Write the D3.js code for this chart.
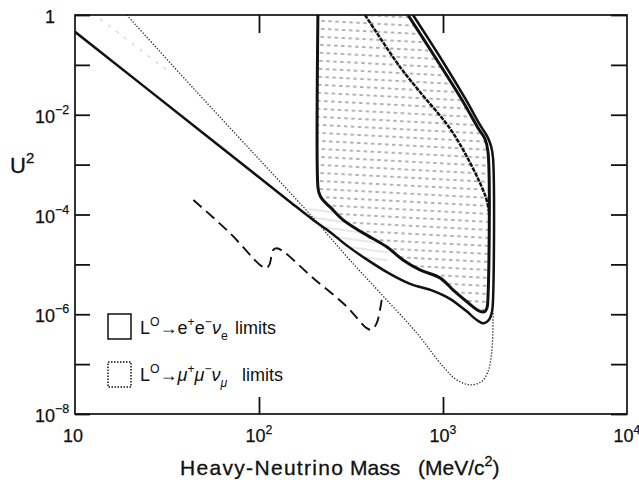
<!DOCTYPE html>
<html><head><meta charset="utf-8">
<script src="https://cdn.jsdelivr.net/npm/d3@7"></script>
<style>body{margin:0;background:#fff}svg{display:block}text{font-family:"Liberation Sans",Arial,sans-serif;fill:#111}</style>
</head><body><svg id="c" width="639" height="480"></svg>
<script>
// Heavy-neutrino mixing limits: U^2 versus mass (MeV/c^2)

// L0 -> e+ e- nu_e limit contour (solid)
const eeMass = [10, 50, 100, 150, 197, 243, 297, 381, 515, 662, 883, 1091, 1334, 1550, 1670, 1778, 1846, 1870, 1870, 1823, 1734, 1589, 1334, 963, 687];
const eeU2   = [0.46, 4.21e-3, 5.56e-4, 1.70e-4, 7.8e-5, 4.48e-5, 2.46e-5, 1.29e-5, 6.45e-6, 4.07e-6, 2.94e-6, 2.04e-6, 1.17e-6, 7.38e-7, 6.57e-7, 7.72e-7, 1.12e-6, 1.94e-6, 1.36e-3, 2.37e-3, 3.76e-3, 6.25e-3, 0.0198, 0.144, 1];

// L0 -> mu+ mu- nu_mu limit contour (heavy, hatched inside)
const muMass = [209, 209, 212, 220, 243, 286, 367, 490, 606, 750, 963, 1133, 1345, 1589, 1692, 1734, 1756, 1756, 1692, 1550, 1269, 905, 645];
const muU2   = [1, 3.57e-4, 2.71e-4, 2.05e-4, 1.42e-4, 7.8e-5, 4.28e-5, 2.3e-5, 1.23e-5, 7.76e-6, 5.36e-6, 3.08e-6, 1.8e-6, 1.14e-6, 1.14e-6, 1.34e-6, 2.23e-6, 1.8e-3, 3.27e-3, 5.43e-3, 0.0198, 0.144, 1];

// heavy dotted curve inside the hatched region
const heavyMass = [377, 584, 750, 1133, 1692, 1778];
const heavyU2   = [1, 0.0908, 0.0286, 4.32e-3, 2.47e-4, 1.13e-4];

// fine dotted curve
const dotMass = [19.1, 45.9, 101, 197, 300, 455, 719, 1000, 1187, 1402, 1623, 1756, 1839, 1870, 1870];
const dotU2   = [1, 0.0286, 1.24e-3, 8.55e-5, 1.43e-5, 2.69e-6, 4.24e-7, 8.95e-8, 4.84e-8, 3.85e-8, 4.48e-8, 7.11e-8, 1.68e-7, 6.73e-7, 1.07e-6];

// dashed curve
const dashMass = [44, 69.6, 101.3, 109.2, 113.8, 119.6, 124.8, 135.6, 197.3, 299.6, 384.8, 409.8, 436.2, 454.6, 464.4];
const dashU2   = [1.96e-4, 4.22e-5, 9.77e-6, 8.39e-6, 9.77e-6, 1.95e-5, 2.11e-5, 1.81e-5, 5.29e-6, 1.43e-6, 5.26e-7, 4.87e-7, 6.63e-7, 1.23e-6, 1.94e-6];

// faint trace in the upper left
const ghostMass = [13.7, 33.6];
const ghostU2   = [0.83, 0.0657];

// axis ticks and labels
const yDecades = [1, 1e-1, 1e-2, 1e-3, 1e-4, 1e-5, 1e-6, 1e-7, 1e-8];
const yLabelVals = [1, 1e-2, 1e-4, 1e-6, 1e-8];
const yLabelBase = ["1", "10", "10", "10", "10"];
const yLabelExp  = ["", "−2", "−4", "−6", "−8"];
const xTickVals = [100, 1000];
const xLabelVals = [10, 100, 1000, 10000];
const xLabelExp  = ["", "2", "3", "4"];

const svg = d3.select("#c");
const x = d3.scaleLog().domain([10, 1e4]).range([75, 627]);
const y = d3.scaleLog().domain([1e-8, 1]).range([414, 15]);

const pts = (ms, us) => ms.map((m, i) => [x(m), y(us[i])]);
const smooth = d3.line().curve(d3.curveCatmullRom.alpha(0.5));
const straight = d3.line();

const defs = svg.append("defs");
// dashed hatching of the mu mu region
const hp = defs.append("pattern").attr("id", "hatch").attr("patternUnits", "userSpaceOnUse")
  .attr("width", 42).attr("height", 8).attr("patternTransform", "rotate(3)");
hp.append("line").attr("x1", 0).attr("x2", 42).attr("y1", 4).attr("y2", 4)
  .attr("stroke", "#666").attr("stroke-width", 1.1).attr("stroke-dasharray", "3.5 3.5");
// light hatching near the junction of the contours
const fp = defs.append("pattern").attr("id", "faint").attr("patternUnits", "userSpaceOnUse")
  .attr("width", 40).attr("height", 8).attr("patternTransform", "rotate(8)");
fp.append("line").attr("x1", 0).attr("x2", 40).attr("y1", 4).attr("y2", 4)
  .attr("stroke", "#c4c4c4").attr("stroke-width", 0.8);

const eePts = pts(eeMass, eeU2);
const muPts = pts(muMass, muU2);

defs.append("clipPath").attr("id", "eeClip").append("path")
  .attr("d", smooth(eePts) + "L" + x(10) + "," + y(1) + "Z");
defs.append("clipPath").attr("id", "junction").append("rect")
  .attr("x", x(185)).attr("y", y(1.6e-4)).attr("width", x(500) - x(185)).attr("height", y(1.0e-5) - y(1.6e-4));
defs.append("clipPath").attr("id", "plot").append("rect")
  .attr("x", 75).attr("y", 15).attr("width", 552).attr("height", 399);

const plot = svg.append("g").attr("clip-path", "url(#plot)");

// faint lines between the two contours
plot.append("g").attr("clip-path", "url(#eeClip)")
  .append("g").attr("clip-path", "url(#junction)")
  .append("rect").attr("x", 75).attr("y", 15).attr("width", 552).attr("height", 399).attr("fill", "url(#faint)");

// hatched mu mu region
plot.append("path").attr("d", smooth(muPts) + "Z").attr("fill", "#fff");
plot.append("path").attr("d", smooth(muPts) + "Z").attr("fill", "url(#hatch)");

// faint trace
plot.append("path").attr("d", straight(pts(ghostMass, ghostU2)))
  .attr("fill", "none").attr("stroke", "#bbb").attr("stroke-width", 1).attr("stroke-dasharray", "3 7");

// fine dotted curve
plot.append("path").attr("d", smooth(pts(dotMass, dotU2)))
  .attr("fill", "none").attr("stroke", "#222").attr("stroke-width", 1.3).attr("stroke-dasharray", "1.3 1.7");

// dashed curve
plot.append("path").attr("d", smooth(pts(dashMass, dashU2)))
  .attr("fill", "none").attr("stroke", "#111").attr("stroke-width", 1.9).attr("stroke-dasharray", "11 6");

// heavy dotted curve
plot.append("path").attr("d", smooth(pts(heavyMass, heavyU2)))
  .attr("fill", "none").attr("stroke", "#111").attr("stroke-width", 2.5).attr("stroke-dasharray", "4.5 1");

// e e contour
plot.append("path").attr("d", smooth(eePts))
  .attr("fill", "none").attr("stroke", "#111").attr("stroke-width", 2.5).attr("stroke-linejoin", "round");

// mu mu contour
plot.append("path").attr("d", smooth(muPts))
  .attr("fill", "none").attr("stroke", "#111").attr("stroke-width", 3).attr("stroke-linejoin", "round");

// frame
svg.append("rect").attr("x", 75).attr("y", 15).attr("width", 552).attr("height", 399)
  .attr("fill", "none").attr("stroke", "#111").attr("stroke-width", 1.7);

// inward ticks on all four sides
const tickStyle = g => { g.select(".domain").remove(); g.selectAll(".tick line").attr("stroke", "#111").attr("stroke-width", 1.8); g.selectAll(".tick text").remove(); };
svg.append("g").attr("transform", "translate(75,0)")
  .call(d3.axisLeft(y).tickValues(yDecades).tickSize(-15).tickFormat("")).call(tickStyle);
svg.append("g").attr("transform", "translate(627,0)")
  .call(d3.axisRight(y).tickValues(yDecades).tickSize(-16).tickFormat("")).call(tickStyle);
svg.append("g").attr("transform", "translate(0,414)")
  .call(d3.axisBottom(x).tickValues(xTickVals).tickSize(-17).tickFormat("")).call(tickStyle);
svg.append("g").attr("transform", "translate(0,15)")
  .call(d3.axisTop(x).tickValues(xTickVals).tickSize(-18).tickFormat("")).call(tickStyle);

// rich text helper: parts with optional sup/sub and italic
function rich(g, x0, yb, size, parts, anchor) {
  const t = g.append("text").attr("x", x0).attr("y", yb).attr("font-size", size);
  if (anchor) t.attr("text-anchor", anchor);
  let shift = 0;
  parts.forEach(p => {
    const off = p.pos === "sup" ? -0.45 * size : p.pos === "sub" ? 0.32 * size : 0;
    const ts = t.append("tspan").attr("dy", off - shift).text(p.t);
    if (p.x != null) ts.attr("x", p.x);
    if (p.pos) ts.attr("font-size", size * 0.68);
    if (p.it) ts.attr("font-style", "italic");
    shift = off;
  });
  return t;
}

// y tick labels
const lab = svg.append("g").attr("stroke", "#111").attr("stroke-width", 0.25);
yLabelVals.forEach((v, i) => {
  lab.append("text").attr("x", 55).attr("y", y(v) + 8).attr("text-anchor", "end")
    .attr("font-size", 18).text(yLabelBase[i]);
  if (yLabelExp[i]) lab.append("text").attr("x", 55).attr("y", y(v) - 1)
    .attr("font-size", 12.5).text(yLabelExp[i]);
});
// x tick labels
xLabelVals.forEach((v, i) => {
  const parts = [{ t: "10" }];
  if (xLabelExp[i]) parts.push({ t: xLabelExp[i], pos: "sup" });
  rich(lab, x(v) + (xLabelExp[i] ? 0 : -2), 442, 18, parts, "middle");
});

// axis titles
rich(svg, 10, 173, 22, [{ t: "U" }, { t: "2", pos: "sup" }]).attr("stroke", "#111").attr("stroke-width", 0.3);
rich(svg, 180, 475, 21, [
  { t: "Heavy-Neutrino" }, { t: "Mass", x: 350 }, { t: "(MeV/c", x: 418 }, { t: "2", pos: "sup" }, { t: ")" }
]).attr("stroke", "#111").attr("stroke-width", 0.3).select("tspan").attr("textLength", 163);

// legend
const lg = svg.append("g");
lg.append("rect").attr("x", 108).attr("y", 314).attr("width", 23).attr("height", 25)
  .attr("fill", "none").attr("stroke", "#111").attr("stroke-width", 1.5);
lg.append("rect").attr("x", 108).attr("y", 362).attr("width", 23).attr("height", 25)
  .attr("fill", "none").attr("stroke", "#111").attr("stroke-width", 1.5).attr("stroke-dasharray", "1.5 1.5");
rich(lg, 140, 334, 18, [
  { t: "L" }, { t: "O", pos: "sup" }, { t: "→" }, { t: "e" }, { t: "+", pos: "sup" }, { t: "e" }, { t: "−", pos: "sup" },
  { t: "ν", it: true }, { t: "e", pos: "sub" }
]);
lg.append("text").attr("x", 235).attr("y", 334).attr("font-size", 18).text("limits");
rich(lg, 140, 381, 18, [
  { t: "L" }, { t: "O", pos: "sup" }, { t: "→" }, { t: "μ", it: true }, { t: "+", pos: "sup" }, { t: "μ", it: true }, { t: "−", pos: "sup" },
  { t: "ν", it: true }, { t: "μ", pos: "sub", it: true }
]);
lg.append("text").attr("x", 242).attr("y", 381).attr("font-size", 18).text("limits");
</script>
</body></html>
